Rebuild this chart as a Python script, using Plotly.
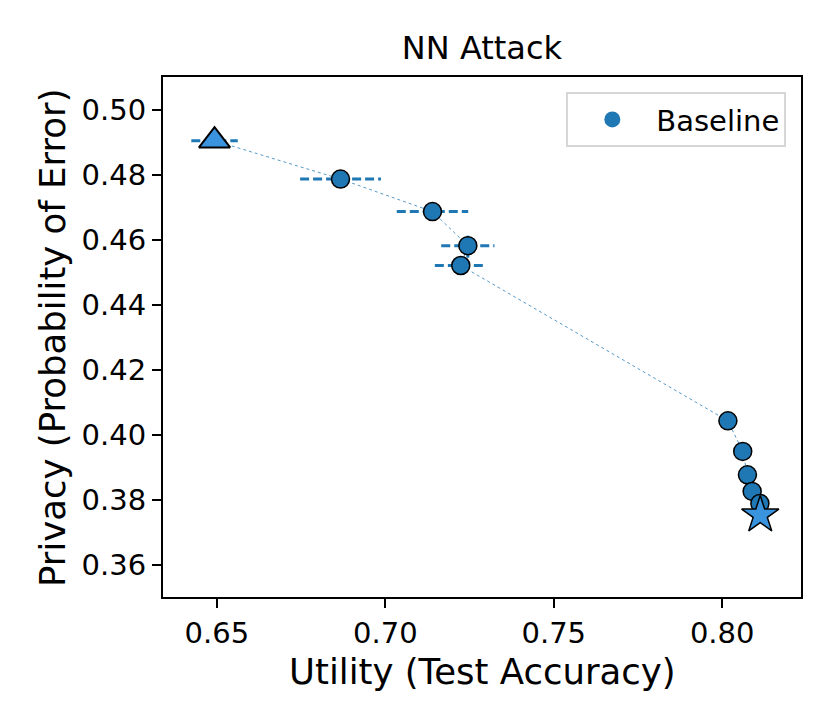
import plotly.graph_objects as go

# valores (NN Attack, Baseline)
utility = [0.6493, 0.6867, 0.7140, 0.7245, 0.7224, 0.8017, 0.8061, 0.8075, 0.8089, 0.8112, 0.8113]
privacy = [0.4904, 0.4786, 0.4686, 0.4581, 0.4520, 0.4042, 0.3948, 0.3876, 0.3825, 0.3788, 0.3752]
utility_err = [0.0069, 0.0120, 0.0106, 0.0079, 0.0077, 0.0010, 0.0010, 0.0010, 0.0010, 0.0010, 0.0010]
privacy_err = [0.0010, 0.0010, 0.0010, 0.0037, 0.0010, 0.0010, 0.0010, 0.0010, 0.0010, 0.0010, 0.0010]

x_ticks = [0.65, 0.70, 0.75, 0.80]
y_ticks = [0.36, 0.38, 0.40, 0.42, 0.44, 0.46, 0.48, 0.50]

BLUE = '#1f77b4'
LIGHT = '#3a93dd'
FONT = 'DejaVu Sans'

# barras de error discontinuas (plotly no permite dash en error_x)
ex, ey, vx, vy = [], [], [], []
for u, p, du, dp in zip(utility, privacy, utility_err, privacy_err):
    ex += [u - du, u + du, None]
    ey += [p, p, None]
    vx += [u, u, None]
    vy += [p - dp, p + dp, None]

fig = go.Figure()

# linea punteada que une los puntos
fig.add_trace(go.Scatter(x=utility, y=privacy, mode='lines',
                         line=dict(color='rgba(31,119,180,0.75)', width=1, dash='dot'),
                         showlegend=False, hoverinfo='skip'))

fig.add_trace(go.Scatter(x=ex, y=ey, mode='lines', line=dict(color=BLUE, width=3, dash='9px,4px'),
                         showlegend=False, hoverinfo='skip'))
fig.add_trace(go.Scatter(x=vx, y=vy, mode='lines', line=dict(color=BLUE, width=3, dash='9px,4px'),
                         showlegend=False, hoverinfo='skip'))

# puntos intermedios
fig.add_trace(go.Scatter(x=utility[1:-1], y=privacy[1:-1], mode='markers',
                         marker=dict(symbol='circle', size=18, color=BLUE, line=dict(color='black', width=1.5)),
                         showlegend=False))
# extremos: triangulo y estrella
fig.add_trace(go.Scatter(x=utility[:1], y=privacy[:1], mode='markers',
                         marker=dict(symbol='triangle-up', size=27, color=LIGHT, line=dict(color='black', width=2)),
                         showlegend=False))
fig.add_trace(go.Scatter(x=utility[-1:], y=privacy[-1:], mode='markers',
                         marker=dict(symbol='star', size=28, color=LIGHT, line=dict(color='black', width=1.5)),
                         showlegend=False))

# entrada de leyenda
fig.add_trace(go.Scatter(x=[None], y=[None], mode='markers', name='Baseline',
                         marker=dict(symbol='circle', size=17, color=BLUE)))

axis_common = dict(showline=True, linecolor='black', linewidth=2, mirror=True,
                   ticks='outside', ticklen=9, tickwidth=2, tickcolor='black',
                   showgrid=False, zeroline=False,
                   tickfont=dict(family=FONT, size=29, color='black'))

fig.update_xaxes(range=[0.634, 0.8234], tickvals=x_ticks, tickformat='.2f', **axis_common)
fig.update_yaxes(range=[0.35, 0.51], tickvals=y_ticks, tickformat='.2f', **axis_common)

fig.add_annotation(text='Utility (Test Accuracy)', xref='paper', yref='paper', x=0.5, y=-0.144,
                   xanchor='center', yanchor='middle', showarrow=False,
                   font=dict(family=FONT, size=35.5, color='black'))
fig.add_annotation(text='Privacy (Probability of Error)', xref='paper', yref='paper', x=-0.174, y=0.5,
                   xanchor='center', yanchor='middle', textangle=-90, showarrow=False,
                   font=dict(family=FONT, size=35.5, color='black'))

# la pagina tiene 8px de margen en el body: se compensa en los margenes
fig.update_layout(
    width=830, height=727,
    margin=dict(l=155, r=37, t=69, b=138),
    paper_bgcolor='white', plot_bgcolor='white',
    title=dict(text='NN Attack', x=0.571, xanchor='center', yref='container', y=1 - 40 / 727,
               yanchor='middle', font=dict(family=FONT, size=32, color='black')),
    legend=dict(x=0.977, y=0.971, xanchor='right', yanchor='top',
                bordercolor='#d6d6d6', borderwidth=2, bgcolor='white',
                itemwidth=78, font=dict(family=FONT, size=29, color='black')),
)

fig.write_html("out.html")
